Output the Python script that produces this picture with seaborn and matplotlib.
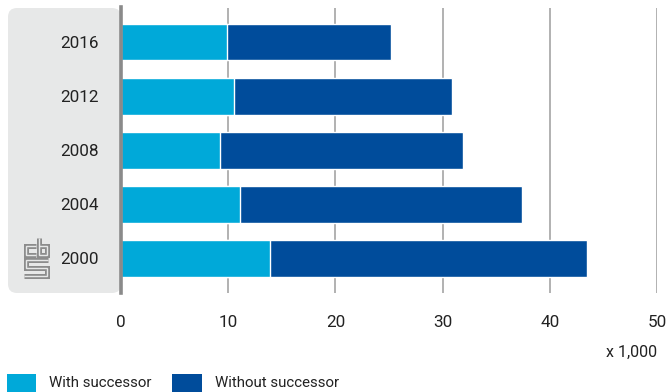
import matplotlib
matplotlib.use('Agg')
import matplotlib.pyplot as plt
import seaborn as sns
import pandas as pd
from matplotlib.patches import FancyBboxPatch, Rectangle
from matplotlib.lines import Line2D
from matplotlib.transforms import IdentityTransform

years = ['2016', '2012', '2008', '2004', '2000']
with_successor = [9.9, 10.5, 9.2, 11.1, 13.9]
without_successor = [15.3, 20.4, 22.7, 26.3, 29.6]
xticks = [0, 10, 20, 30, 40, 50]
legend_labels = ['With successor', 'Without successor']
unit_label = 'x 1,000'

LIGHT = '#00a9d9'
DARK = '#004c9b'
TEXT = '#222222'
PANEL = '#e7e8e8'

sns.set_theme(style='white')
plt.rcParams['font.family'] = ['Roboto', 'DejaVu Sans']

W, H, DPI = 669, 392, 100
fig = plt.figure(figsize=(W / DPI, H / DPI), dpi=DPI)

def fx(x):
    return x / W

def fy(y):
    return 1 - y / H

ax = fig.add_axes([fx(121), fy(293), fx(657) - fx(121), fy(7.5) - fy(293)])
ax.set_facecolor('none')

df = pd.DataFrame({'year': years, 'with': with_successor, 'without': without_successor})
df['total'] = df['with'] + df['without']

sns.barplot(data=df, y='year', x='total', orient='y', order=years, color=DARK,
            saturation=1, width=0.68, edgecolor='white', linewidth=1.0, ax=ax)
sns.barplot(data=df, y='year', x='with', orient='y', order=years, color=LIGHT,
            saturation=1, width=0.68, edgecolor='white', linewidth=1.0, ax=ax)

ax.set_xlim(0, 50)
ax.set_ylim(4.64, -0.64)
ax.set_xticks(xticks)
ax.set_xticklabels([str(t) for t in xticks])
ax.set_xlabel('')
ax.set_ylabel('')
ax.set_axisbelow(True)
ax.xaxis.grid(True, color='#9d9d9d', linewidth=1.1)
ax.yaxis.grid(False)
for s in ['top', 'right', 'bottom']:
    ax.spines[s].set_visible(False)
ax.spines['left'].set_color('#8a8a8a')
ax.spines['left'].set_linewidth(2.6)
ax.tick_params(axis='both', length=0, labelsize=12.3, labelcolor=TEXT)
ax.tick_params(axis='x', pad=16)
ax.tick_params(axis='y', pad=16)

# grey label panel
idt = IdentityTransform()
panel = FancyBboxPatch((8, H - 293), 113, 285, boxstyle='round,pad=0,rounding_size=9',
                       transform=idt, facecolor=PANEL, edgecolor='none', zorder=-5)
fig.add_artist(panel)

# logo
def logo_line(pts):
    xs = [p[0] for p in pts]
    ys = [H - p[1] for p in pts]
    fig.add_artist(Line2D(xs, ys, transform=idt, color='#8c8c8c', linewidth=3.6,
                          solid_joinstyle='miter', solid_capstyle='butt', zorder=-4))
    fig.add_artist(Line2D(xs, ys, transform=idt, color=PANEL, linewidth=1.0,
                          solid_joinstyle='miter', solid_capstyle='butt', zorder=-3))

logo_line([(35.5, 246), (25.5, 246), (25.5, 255), (35.5, 255)])
logo_line([(38.5, 238), (38.5, 255), (47, 255), (47, 246), (38.5, 246)])
logo_line([(47.5, 260), (25.5, 260), (25.5, 268), (46.5, 268), (46.5, 276), (24, 276)])

# unit label
fig.text(fx(657), fy(352), unit_label, ha='right', va='center', fontsize=11.5, color=TEXT)

# legend
for x0, x1, tx, lab, col in [(7, 36, 49, legend_labels[0], LIGHT),
                              (172, 202, 215, legend_labels[1], DARK)]:
    fig.add_artist(Rectangle((x0, H - 398), x1 - x0, 24, transform=idt,
                             facecolor=col, edgecolor='none'))
    fig.text(fx(tx), fy(383), lab, ha='left', va='center', fontsize=10.8, color=TEXT)

fig.savefig('out.png', dpi=DPI)
